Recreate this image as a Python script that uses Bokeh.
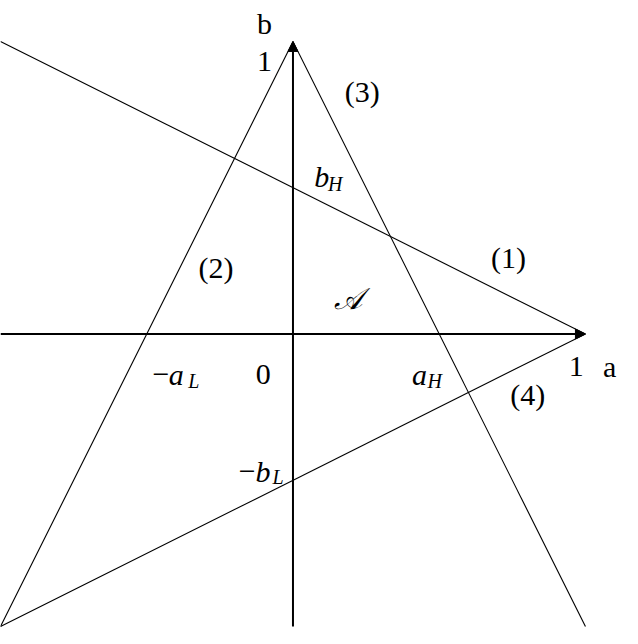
from bokeh.plotting import figure
from bokeh.models import Arrow, NormalHead
from bokeh.core.properties import value
from bokeh.embed import file_html
from bokeh.resources import INLINE

# intercepts of the four lines
a_H = 0.5
b_H = 0.5
a_L = 0.5
b_L = 0.5

# line endpoints (a, b) for (1)..(4)
line_a = [[-1.0, 1.0], [-1.0, 0.0], [0.0, 1.0], [-1.0, 1.0]]
line_b = [[1.0, 0.0], [-1.0, 1.0], [1.0, -1.0], [-1.0, 0.0]]

# upright labels
up_text = ["b", "1", "(3)", "(1)", "(2)", "(4)", "0", "1", "a", "\u2212", "\u2212"]
up_a = [-0.123, -0.123, 0.177, 0.677, -0.323, 0.743, -0.127, 0.943, 1.06, -0.48, -0.185]
up_b = [1.06, 0.93, 0.83, 0.26, 0.227, -0.207, -0.137, -0.11, -0.11, -0.137, -0.47]

# italic labels with subscripts
it_text = ["b", "a", "a", "b", "\U0001D49C"]
it_a = [0.073, -0.425, 0.407, -0.128, 0.14]
it_b = [0.537, -0.137, -0.137, -0.47, 0.123]
sub_text = ["H", "L", "H", "L"]
sub_a = [0.12, -0.358, 0.46, -0.07]
sub_b = [0.513, -0.16, -0.16, -0.49]

W, H = 622, 628
scale = 300.0

p = figure(width=W, height=H, output_backend="svg", toolbar_location=None,
           x_range=(-1, -1 + 638 / scale), y_range=(1.14 - 644 / scale, 1.14),
           min_border=0)
p.axis.visible = False
p.grid.visible = False
p.outline_line_color = None

p.multi_line(line_a, line_b, line_color="black", line_width=1.1)

# axes with arrow heads
p.add_layout(Arrow(x_start=-1, y_start=0, x_end=1, y_end=0, line_width=2,
                   end=NormalHead(size=10, fill_color="black", line_color="black")))
p.add_layout(Arrow(x_start=0, y_start=-1, x_end=0, y_end=1, line_width=2,
                   end=NormalHead(size=10, fill_color="black", line_color="black")))

font = value("Liberation Serif")
p.text(up_a, up_b, text=up_text, text_font=font, text_font_size="30px",
       text_align="left", text_baseline="alphabetic", text_color="black")
p.text(it_a, it_b, text=it_text, text_font=font, text_font_size="30px",
       text_font_style="italic", text_align="left", text_baseline="alphabetic",
       text_color="black")
p.text(sub_a, sub_b, text=sub_text, text_font=font, text_font_size="20px",
       text_font_style="italic", text_align="left", text_baseline="alphabetic",
       text_color="black")

open("out.html", "w").write(file_html(p, INLINE))
